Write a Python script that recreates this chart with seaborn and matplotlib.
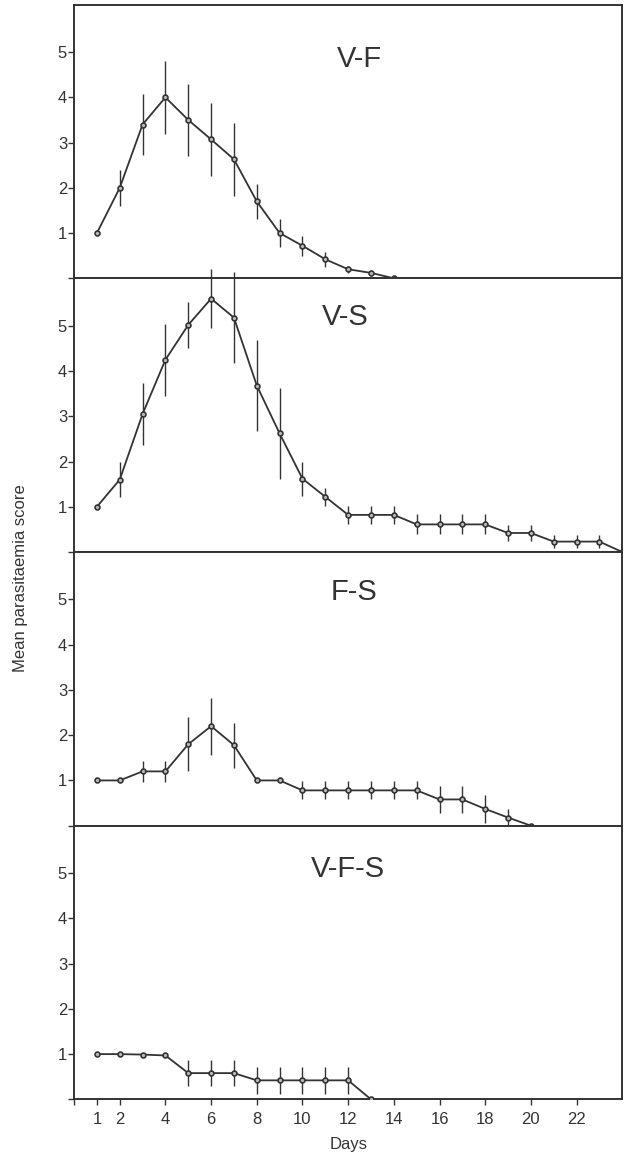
import numpy as np
import matplotlib
matplotlib.use('Agg')
import matplotlib.pyplot as plt
import seaborn as sns
import pandas as pd

# Data (mean score and +/- error per day)
vf_days = list(range(1, 15))
vf_mean = [1.0, 2.0, 3.4, 4.0, 3.5, 3.07, 2.63, 1.7, 1.0, 0.72, 0.42, 0.2, 0.12, 0.0]
vf_err = [0, 0.4, 0.67, 0.8, 0.8, 0.8, 0.8, 0.38, 0.3, 0.22, 0.16, 0.08, 0.06, 0]

vs_days = list(range(1, 25))
vs_mean = [1.0, 1.6, 3.05, 4.25, 5.02, 5.6, 5.18, 3.68, 2.62, 1.62, 1.22, 0.82, 0.82, 0.82,
           0.61, 0.61, 0.61, 0.61, 0.42, 0.42, 0.23, 0.23, 0.23, 0.0]
vs_err = [0, 0.38, 0.68, 0.8, 0.5, 0.65, 1.0, 1.0, 1.0, 0.38, 0.2, 0.2, 0.2, 0.2,
          0.22, 0.22, 0.22, 0.22, 0.18, 0.18, 0.14, 0.14, 0.14, 0]

fs_days = list(range(1, 21))
fs_mean = [1.0, 1.0, 1.2, 1.2, 1.8, 2.2, 1.78, 1.0, 1.0, 0.78, 0.78, 0.78, 0.78, 0.78,
           0.78, 0.58, 0.58, 0.37, 0.18, 0.0]
fs_err = [0, 0, 0.23, 0.23, 0.6, 0.63, 0.5, 0, 0, 0.2, 0.2, 0.2, 0.2, 0.2,
          0.2, 0.3, 0.3, 0.3, 0.18, 0]

vfs_days = list(range(1, 14))
vfs_mean = [1.0, 1.0, 0.99, 0.97, 0.58, 0.58, 0.58, 0.42, 0.42, 0.42, 0.42, 0.42, 0.0]
vfs_err = [0, 0, 0, 0, 0.28, 0.28, 0.28, 0.3, 0.3, 0.3, 0.3, 0.3, 0]

panel_names = ['V-F', 'V-S', 'F-S', 'V-F-S']
title_pos = [(0.52, 0.80), (0.495, 0.86), (0.51, 0.855), (0.50, 0.84)]
x_ticks = [1, 2, 4, 6, 8, 10, 12, 14, 16, 18, 20, 22]
y_ticks = [1, 2, 3, 4, 5]

sns.set_theme(style='white')
plt.rcParams['font.family'] = ['Liberation Sans', 'DejaVu Sans']

fig, axes = plt.subplots(4, 1, figsize=(6.33, 11.56), dpi=100, sharex=True)
fig.subplots_adjust(left=0.117, right=0.983, top=0.996, bottom=0.049, hspace=0)

series = [(vf_days, vf_mean, vf_err), (vs_days, vs_mean, vs_err),
          (fs_days, fs_mean, fs_err), (vfs_days, vfs_mean, vfs_err)]

ink = '#333333'
for ax, name, pos, (d, m, e) in zip(axes, panel_names, title_pos, series):
    df = pd.DataFrame({'day': d, 'score': m, 'err': e})
    ax.errorbar(df['day'], df['score'], yerr=df['err'], fmt='none', ecolor=ink,
                elinewidth=1.0, capsize=0, clip_on=False, zorder=3)
    sns.lineplot(data=df, x='day', y='score', ax=ax, color=ink, lw=1.3,
                 marker='o', markersize=3.5, markerfacecolor='#bbbbbb',
                 markeredgecolor=ink, markeredgewidth=1.2, zorder=4)
    ax.set_xlim(0, 24)
    ax.set_ylim(0, 6.05)
    ax.set_yticks([0] + y_ticks)
    ax.set_yticklabels([''] + [str(t) for t in y_ticks], fontsize=12, color=ink)
    ax.tick_params(axis='y', left=True, direction='out', length=4, width=1, color=ink, pad=1)
    ax.tick_params(axis='x', bottom=True, direction='out', length=4, width=1, color=ink, pad=5)
    ax.set_ylabel('')
    ax.set_xlabel('')
    for s in ax.spines.values():
        s.set_color(ink)
        s.set_linewidth(1.4)
    ax.text(pos[0], pos[1], name, transform=ax.transAxes, ha='center', va='center',
            fontsize=21, color=ink)

axes[-1].set_xticks([0] + x_ticks)
axes[-1].set_xticklabels([''] + [str(t) for t in x_ticks], fontsize=12, color=ink)
axes[-1].set_xlabel('Days', fontsize=12, color=ink, labelpad=7)
fig.text(0.032, 0.5, 'Mean parasitaemia score', rotation=90, ha='center', va='center',
         fontsize=12, color=ink)

fig.savefig('out.png', dpi=100)
